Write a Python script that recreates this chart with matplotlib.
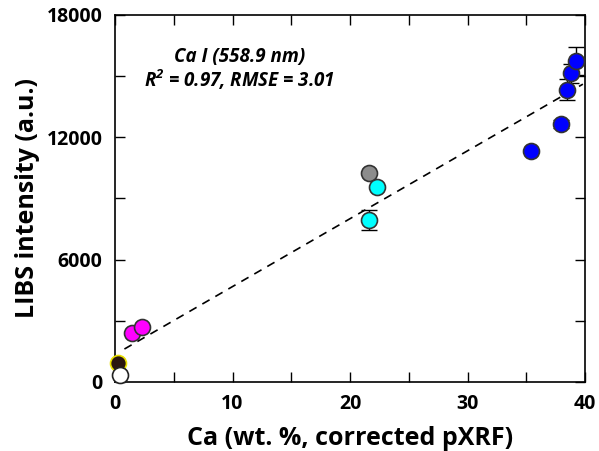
import matplotlib
matplotlib.use('Agg')
import matplotlib.pyplot as plt
import numpy as np

plt.rcParams['font.family'] = ['Open Sans', 'DejaVu Sans']

# points: Ca wt.% vs LIBS intensity
ca_pink = [1.45, 2.3]
libs_pink = [2410, 2700]

ca_dark = [0.26]
libs_dark = [930]

ca_white = [0.4]
libs_white = [340]

ca_gray = [21.6]
libs_gray = [10230]

ca_cyan = [21.6, 22.3]
libs_cyan = [7920, 9540]
err_cyan = [490, 0]

ca_blue = [35.4, 37.9, 38.44, 38.78, 39.24]
libs_blue = [11310, 12640, 14330, 15130, 15720]
err_blue = [0, 200, 520, 450, 690]

# fit line
fit_x = [0.8, 39.8]
fit_slope, fit_icpt = 333, 1350

fig = plt.figure(figsize=(5.99, 4.51), dpi=100)
ax = fig.add_axes([0.192, 0.153, 0.785, 0.814])

fx = np.array(fit_x)
ax.plot(fx, fit_icpt + fit_slope * fx, color='k', lw=1.2, dashes=(5, 4), zorder=1)

def pts(x, y, fc, ec='#333333', err=None):
    if err is not None:
        ax.errorbar(x, y, yerr=err, fmt='none', ecolor='k', elinewidth=1,
                    capsize=6, capthick=1, zorder=2)
    ax.plot(x, y, 'o', ms=11.5, mfc=fc, mec=ec, mew=1.2, zorder=3, clip_on=False)

pts(ca_pink, libs_pink, '#ff00ff')
pts(ca_dark, libs_dark, '#2a1610', ec='#e8e000')
pts(ca_white, libs_white, 'white', ec='#222222')
pts(ca_gray, libs_gray, '#8c8c8c')
for x, y, e in zip(ca_cyan, libs_cyan, err_cyan):
    pts([x], [y], '#00ffff', err=[e] if e else None)
for x, y, e in zip(ca_blue, libs_blue, err_blue):
    pts([x], [y], '#0000ff', err=[e] if e else None)

ax.set_xlim(0, 40)
ax.set_ylim(0, 18000)
ax.set_xticks([0, 10, 20, 30, 40])
ax.set_xticks(np.arange(5, 40, 10), minor=True)
ax.set_yticks([0, 6000, 12000, 18000])
ax.set_yticks([3000, 9000, 15000], minor=True)
ax.tick_params(which='both', direction='in', top=True, right=True, length=7, width=1,
               labelsize=14)
ax.tick_params(axis='x', pad=9)
ax.tick_params(axis='y', pad=9)
for lab in ax.get_xticklabels() + ax.get_yticklabels():
    lab.set_fontweight('bold')
for s in ax.spines.values():
    s.set_linewidth(1.2)

ax.set_xlabel('Ca (wt. %, corrected pXRF)', fontsize=18, fontweight='bold', labelpad=8)
ax.set_ylabel('LIBS intensity (a.u.)', fontsize=18, fontweight='bold', labelpad=5)

ax.text(0.264, 0.886, 'Ca I (558.9 nm)', transform=ax.transAxes, ha='center', va='center',
        fontsize=13.5, fontweight='bold', style='italic')
ax.text(0.264, 0.823, r'R$^\mathregular{2}$ = 0.97, RMSE = 3.01', transform=ax.transAxes,
        ha='center', va='center', fontsize=13.5, fontweight='bold', style='italic')

plt.savefig('out.png', dpi=100)
